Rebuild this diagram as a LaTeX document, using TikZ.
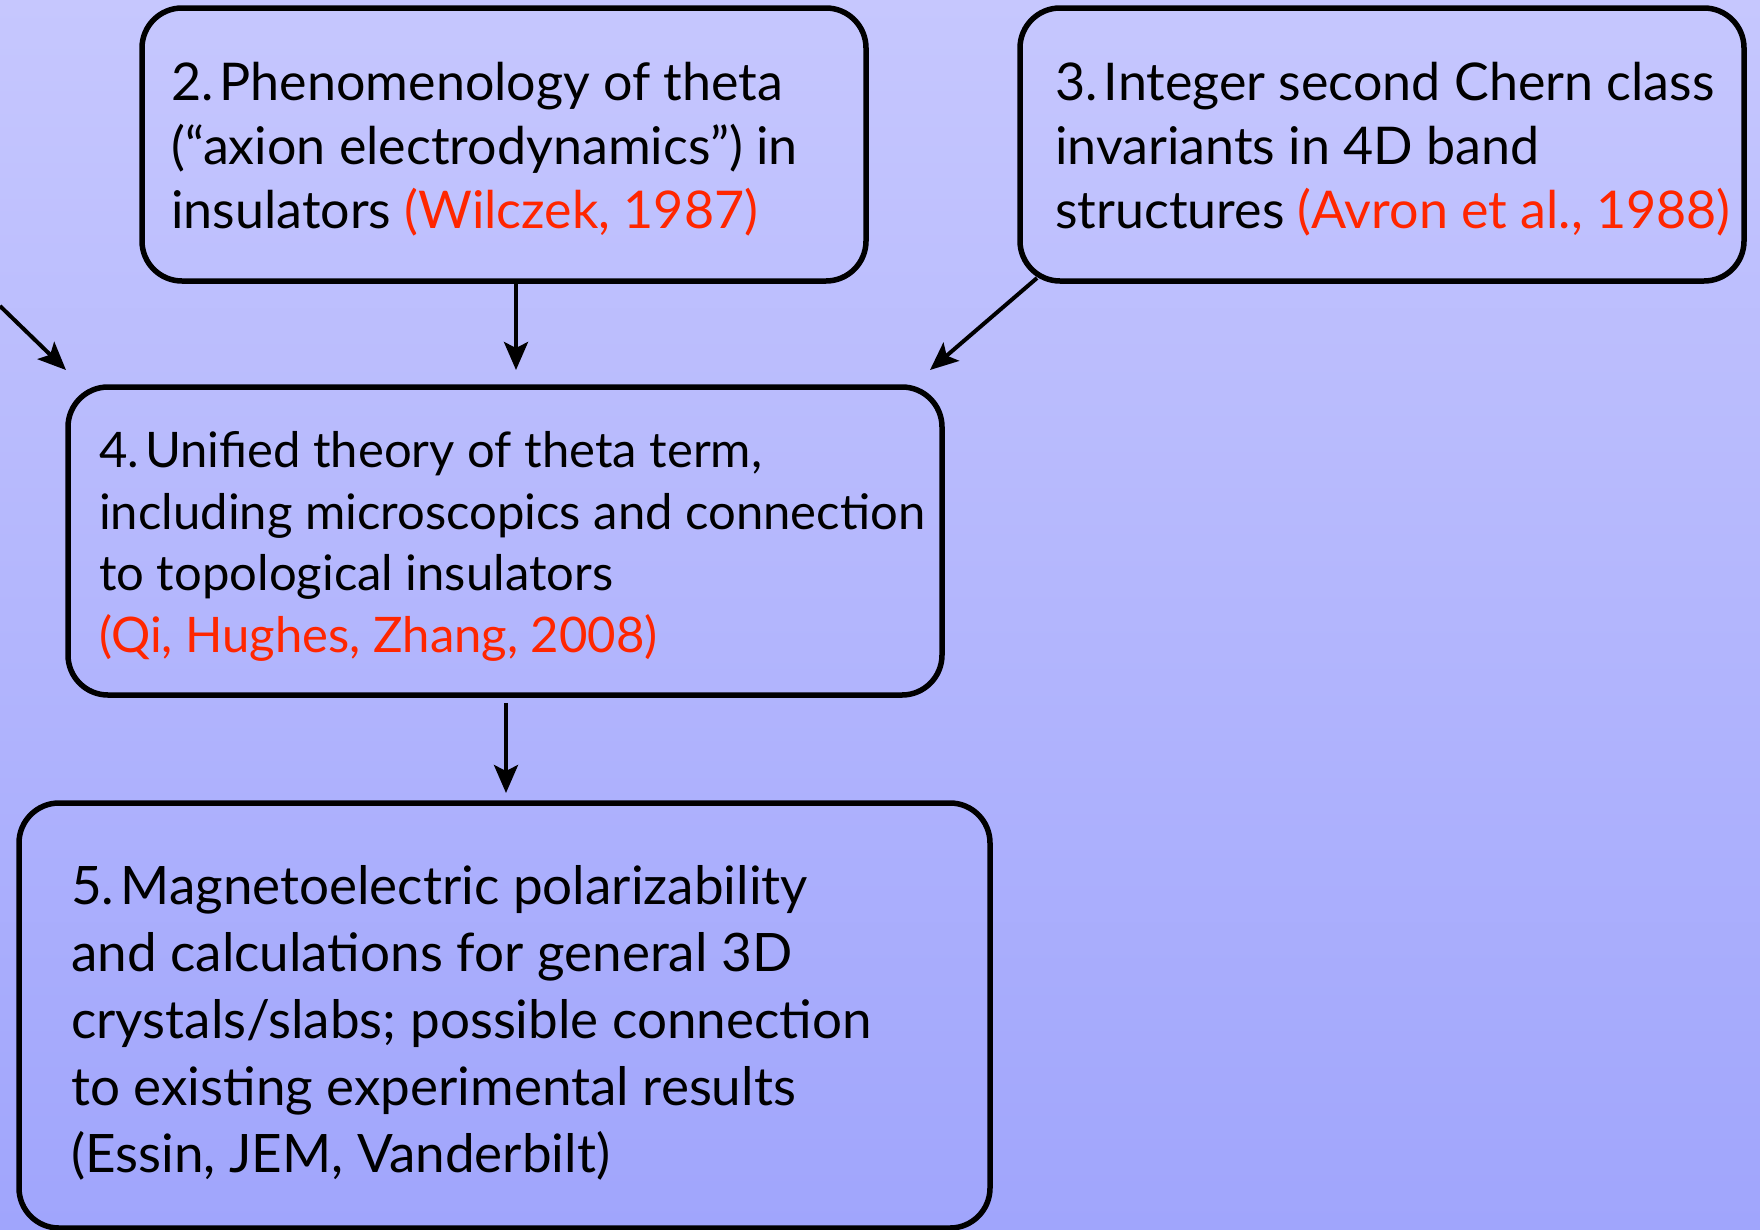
\documentclass[tikz,border=0pt]{standalone}
\usepackage{fontspec}
\setmainfont{Lato}
\usetikzlibrary{arrows.meta}
\definecolor{bgtop}{RGB}{198,199,254}
\definecolor{bgbot}{RGB}{160,165,252}
\definecolor{citered}{RGB}{255,38,0}
\frenchspacing
\begin{document}
\begin{tikzpicture}[x=1pt,y=-1pt,
  box/.style={draw=black,line width=5.5pt,rounded corners=40pt,inner sep=0pt},
  txt/.style={anchor=base west,align=left,inner sep=0pt,text=black},
  conn/.style={line width=4pt,-{Stealth[length=28pt,width=24pt,inset=6pt]}}]
\useasboundingbox (0,0) rectangle (1760,1229);
\shade[top color=bgtop,bottom color=bgbot] (0,0) rectangle (1760,1229);
% boxes
\node[box,minimum width=724pt,minimum height=273pt] (b2) at (504,144.5) {};
\node[box,minimum width=724pt,minimum height=273pt] (b3) at (1382,144.5) {};
\node[box,minimum width=874pt,minimum height=308pt] (b4) at (505,541) {};
\node[box,minimum width=971pt,minimum height=425pt] (b5) at (504.5,1015.5) {};
% texts (anchored at the baseline of the last line)
\node[txt,font=\fontsize{52}{64}\selectfont] (t2) at (171,228)
  {2.\hspace{0.12em}Phenomenology of theta\\(“axion electrodynamics”) in\\insulators \textcolor{citered}{(Wilczek, 1987)}};
\node[txt,font=\fontsize{52}{64}\selectfont] (t3) at (1055,228)
  {3.\hspace{0.12em}Integer second Chern class\\invariants in 4D band\\structures \textcolor{citered}{(Avron et al., 1988)}};
\node[txt,font=\fontsize{49}{61.5}\selectfont] (t4) at (99,652)
  {4.\hspace{0.12em}Unified theory of theta term,\\including microscopics and connection\\to topological insulators\\\textcolor{citered}{(Qi, Hughes, Zhang, 2008)}};
\node[txt,font=\fontsize{53}{67}\selectfont] (t5) at (71,1172)
  {5.\hspace{0.12em}Magnetoelectric polarizability\\and calculations for general 3D\\crystals/slabs; possible connection\\to existing experimental results\\(Essin, JEM, Vanderbilt)};
% connector ends
\coordinate (s1) at (0,306);
\coordinate (e1) at (66,370);
\coordinate (e2) at (516,370);
\coordinate (s3) at (1037,278);
\coordinate (e3) at (930,370);
\coordinate (e4) at (506,793);
\draw[conn] (s1) -- (e1);
\draw[conn] (b2.south -| e2) -- (e2);
\draw[conn] (s3) -- (e3);
\draw[conn] ([yshift=-5pt]b4.south -| e4) -- (e4);
\end{tikzpicture}
\end{document}
